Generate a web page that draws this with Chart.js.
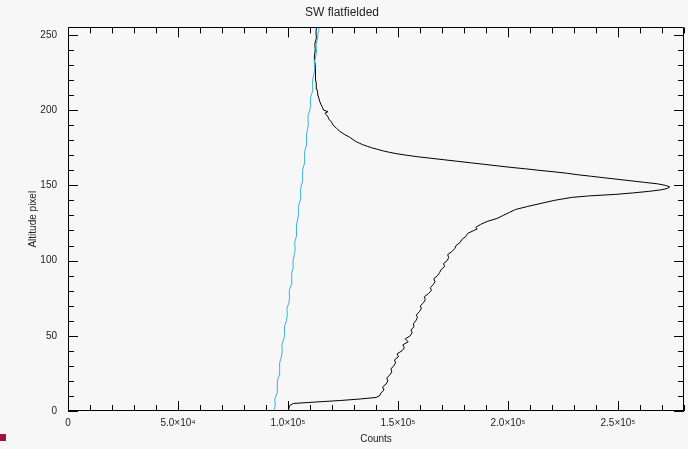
<!DOCTYPE html>
<html>
<head>
<meta charset="utf-8">
<script src="https://cdn.jsdelivr.net/npm/chart.js@4.4.1/dist/chart.umd.min.js"></script>
<style>
	body { margin: 0; background: #f7f7f7; }
	#wrap { position: relative; width: 688px; height: 449px; }
	#mark { position: absolute; left: 0; top: 434px; width: 6px; height: 7px; background: #a3123f; }
</style>
</head>
<body>
<div id="wrap">
	<canvas id="profile-canvas"></canvas>
	<div id="mark"></div>
</div>
<script>
// altitude pixel (y) vs counts (x)
let black_alt = [
	0, 1, 2, 3, 4, 5, 6, 7, 8, 9, 10, 12, 14, 16, 18, 20, 22, 24, 26, 28,
	30, 32, 34, 36, 38, 40, 42, 44, 46, 48, 50, 52, 54, 56, 58, 60, 62, 64, 66, 68,
	70, 72, 74, 76, 78, 80, 82, 84, 86, 88, 90, 92, 94, 96, 98, 100, 102, 104, 106, 108,
	110, 112, 114, 116, 118, 120, 121, 122, 124, 126, 128, 130, 132, 134, 136, 138, 140, 141, 142, 143,
	144, 145, 146, 147, 148, 149, 150, 151, 152, 153, 154, 155, 156, 157, 158, 159, 160, 161, 162, 163,
	164, 165, 166, 167, 168, 169, 170, 171, 172, 173, 174, 175, 176, 177, 178, 179, 180, 182, 184, 186,
	188, 190, 192, 194, 196, 198, 199, 200, 202, 204, 206, 208, 210, 212, 214, 216, 218, 220, 224, 228,
	232, 236, 240, 244, 248, 252, 255
];
let black_counts = [
	99500, 100200, 100400, 100700, 101000, 102500, 113000, 124000, 133000, 140000, 141500, 142300, 143600, 143000, 144600, 145400, 144900, 146300, 147200, 146800,
	148000, 148900, 148400, 150200, 149600, 151800, 152900, 152200, 154600, 153300, 155600, 156400, 155900, 157300, 157000, 158100, 158800, 158400, 159700, 160600,
	160200, 161600, 162400, 162000, 163800, 165200, 164700, 166000, 166800, 166300, 168000, 168900, 169600, 171200, 170700, 172400, 173000, 172600, 174500, 175800,
	176400, 178200, 179000, 180800, 181600, 184500, 186000, 185300, 187500, 190500, 195000, 197800, 200600, 203500, 209000, 215000, 221000, 225000, 229000, 237000,
	249000, 257000, 264000, 269500, 272500, 273500, 271500, 268000, 262000, 256000, 250000, 244000, 238000, 232000, 227000, 221000, 214000, 208000, 201000, 195000,
	189000, 183000, 177000, 171000, 165000, 159000, 154000, 149500, 146000, 143000, 140500, 138000, 136000, 134000, 132500, 131000, 130000, 128000, 125500, 123500,
	122000, 120500, 119800, 118600, 118000, 116800, 118200, 116200, 115600, 114900, 114400, 114000, 113600, 113500, 113100, 112900, 112800, 112500, 112300, 112700,
	112200, 112000, 112400, 112200, 112900, 112700, 113000
];
let cyan_alt = [
	0, 4, 8, 12, 16, 20, 24, 28, 32, 36, 40, 44, 48, 52, 56, 60, 64, 68, 72, 76,
	80, 84, 88, 92, 96, 100, 104, 108, 112, 116, 120, 124, 128, 132, 136, 140, 144, 148, 152, 156,
	160, 164, 168, 172, 176, 180, 184, 188, 192, 196, 200, 204, 208, 212, 216, 220, 224, 228, 232, 236,
	240, 244, 248, 252, 255
];
let cyan_counts = [
	93600, 94200, 94000, 95000, 95300, 95000, 96000, 96300, 96100, 97000, 97400, 97200, 98100, 98600, 98400, 99300, 99700, 99500, 100400, 100800,
	100600, 101400, 101800, 101600, 102500, 102300, 102900, 103300, 103000, 103800, 104000, 103700, 104500, 104900, 104700, 105500, 105900, 105600, 106400, 106800,
	106500, 107300, 107700, 107400, 108200, 108500, 108300, 109000, 109300, 109100, 109900, 110400, 110200, 111000, 111300, 111100, 111800, 112200, 112000, 112700,
	113000, 112800, 113500, 113700, 114000
];
let x_max = 280000;
let x_tick_values = [0, 50000, 100000, 150000, 200000, 250000];
let x_minor = 10000;
let y_max = 255;
let y_tick_values = [0, 50, 100, 150, 200, 250];
let y_minor = 10;

let toPoints = function(xs, ys) {
	return xs.map((v, i) => ({x: v, y: ys[i]}));
};

let sup = {'0':'⁰','1':'¹','2':'²','3':'³','4':'⁴','5':'⁵','6':'⁶','7':'⁷','8':'⁸','9':'⁹'};
let sciLabel = function(v) {
	if (v === 0) return '0';
	let e = Math.floor(Math.log10(v));
	let m = v / Math.pow(10, e);
	return m.toFixed(1) + '×10' + String(e).split('').map(c => sup[c]).join('');
};

// IDL style box with inward major/minor ticks on all four sides
let frameTicks = {
	id: 'frameTicks',
	afterDatasetsDraw(chart) {
		let ctx = chart.ctx;
		let a = chart.chartArea;
		let xs = chart.scales.x;
		let ys = chart.scales.y;
		ctx.save();
		ctx.strokeStyle = '#000';
		ctx.lineWidth = 1;
		ctx.beginPath();
		ctx.rect(Math.round(a.left) + 0.5, Math.round(a.top) + 0.5, Math.round(a.right - a.left) - 1, Math.round(a.bottom - a.top) - 1);
		for (let v = 0; v <= x_max; v += x_minor) {
			let px = Math.round(xs.getPixelForValue(v)) + 0.5;
			let len = x_tick_values.includes(v) ? 10 : 6;
			ctx.moveTo(px, a.bottom); ctx.lineTo(px, a.bottom - len);
			ctx.moveTo(px, a.top); ctx.lineTo(px, a.top + len);
		}
		for (let v = 0; v <= y_max; v += y_minor) {
			let py = Math.round(ys.getPixelForValue(v)) + 0.5;
			let len = y_tick_values.includes(v) ? 10 : 6;
			ctx.moveTo(a.left, py); ctx.lineTo(a.left + len, py);
			ctx.moveTo(a.right, py); ctx.lineTo(a.right - len, py);
		}
		ctx.stroke();
		ctx.restore();
	}
};

let context = document.getElementById('profile-canvas').getContext('2d');
let profile_chart = new Chart(context, {
	type: 'scatter',
	data: {
		datasets: [
			{
				label: 'flatfield',
				data: toPoints(cyan_counts, cyan_alt),
				showLine: true,
				borderColor: '#3cb2de',
				borderWidth: 1,
				pointRadius: 0
			},
			{
				label: 'SW',
				data: toPoints(black_counts, black_alt),
				showLine: true,
				borderColor: '#000000',
				borderWidth: 1,
				pointRadius: 0
			}
		]
	},
	options: {
		responsive: true,
		maintainAspectRatio: false,
		animation: false,
		layout: { padding: { left: 0, right: 4, top: 0, bottom: 0 } },
		plugins: {
			legend: { display: false },
			tooltip: { enabled: false },
			title: {
				display: true,
				text: 'SW flatfielded',
				color: '#222',
				font: { family: 'Liberation Sans', size: 12, weight: 'normal' },
				padding: { top: 5, bottom: 8 }
			}
		},
		scales: {
			x: {
				type: 'linear',
				min: 0,
				max: x_max,
				grid: { display: false, drawTicks: false },
				border: { display: false },
				afterBuildTicks: function(scale) { scale.ticks = x_tick_values.map(v => ({value: v})); },
				afterFit: function(scale) { scale.height = 38; },
				ticks: {
					autoSkip: false,
					padding: 6,
					maxRotation: 0,
					color: '#222',
					font: { family: 'Liberation Sans', size: 10 },
					callback: function(v) { return sciLabel(v); }
				},
				title: {
					display: true,
					text: 'Counts',
					color: '#222',
					font: { family: 'Liberation Sans', size: 10 },
					padding: { top: 0, bottom: 4 }
				}
			},
			y: {
				type: 'linear',
				min: 0,
				max: y_max,
				grid: { display: false, drawTicks: false },
				border: { display: false },
				afterBuildTicks: function(scale) { scale.ticks = y_tick_values.map(v => ({value: v})); },
				afterFit: function(scale) { scale.width = 68; },
				ticks: {
					autoSkip: false,
					padding: 11,
					color: '#222',
					font: { family: 'Liberation Sans', size: 10 },
					callback: function(v) { return String(v); }
				},
				title: {
					display: true,
					text: 'Altitude pixel',
					color: '#222',
					font: { family: 'Liberation Sans', size: 10 },
					padding: { top: 27, bottom: 0 }
				}
			}
		}
	},
	plugins: [frameTicks]
});
</script>
</body>
</html>
